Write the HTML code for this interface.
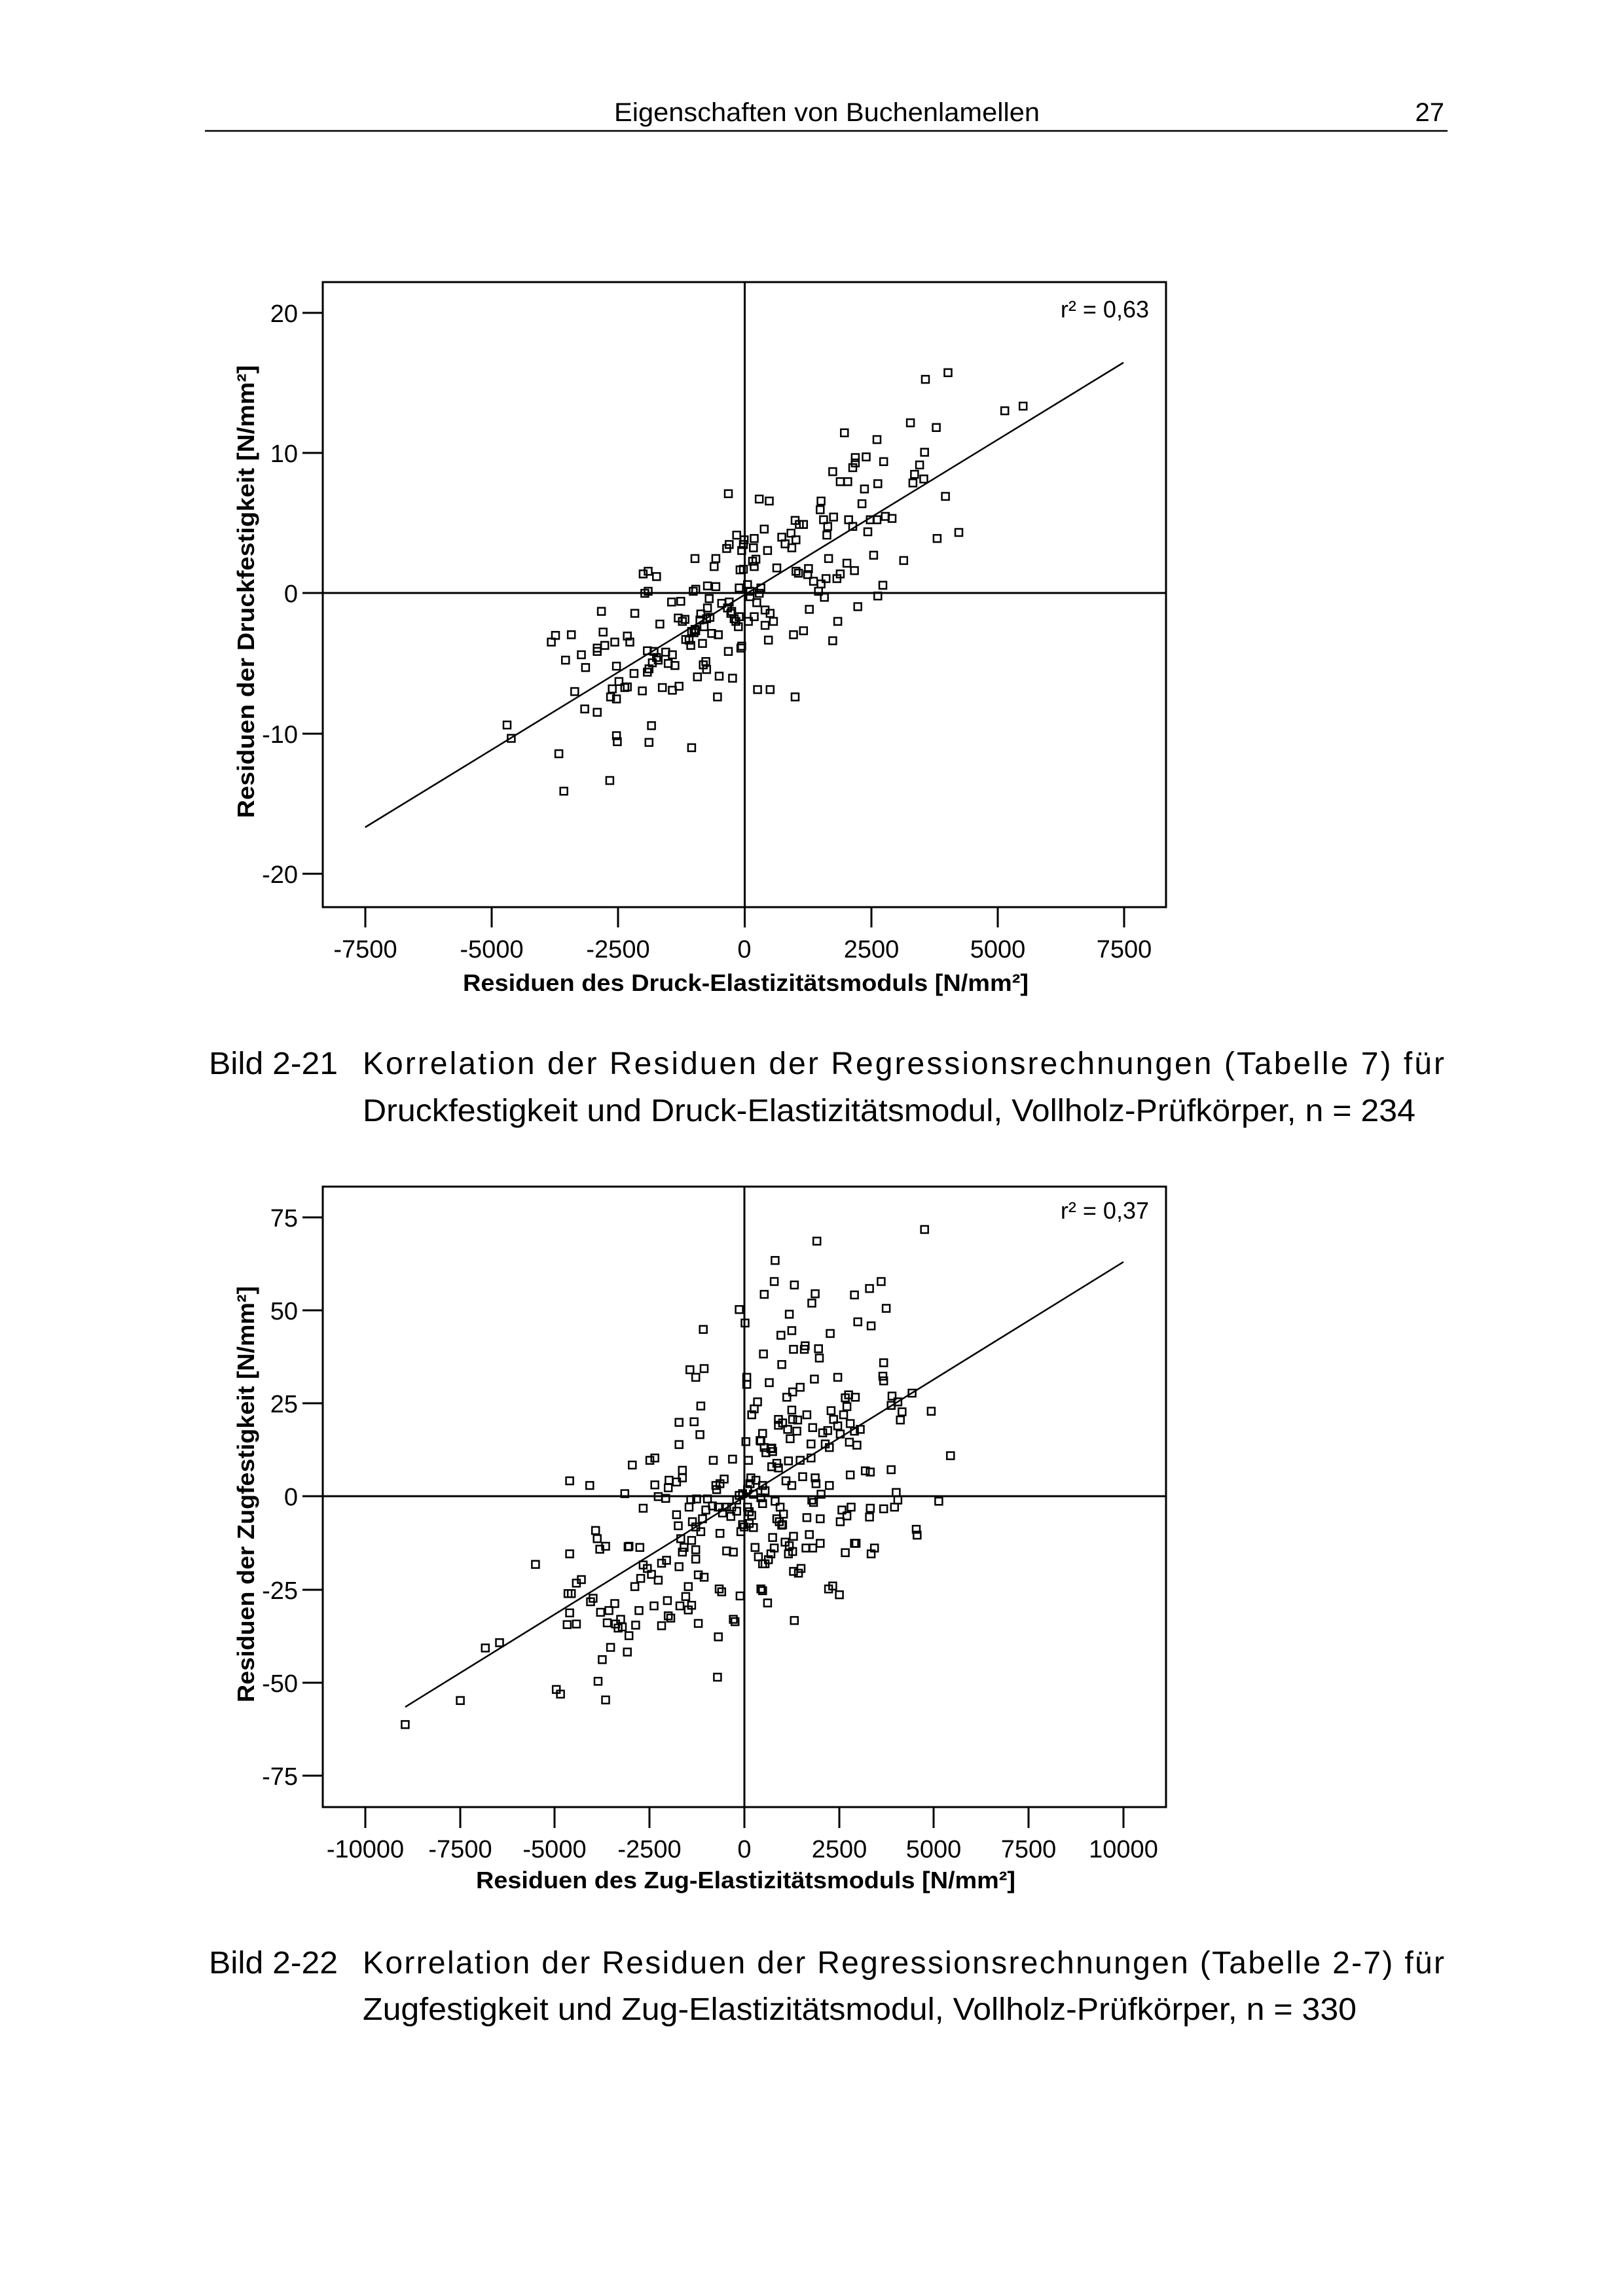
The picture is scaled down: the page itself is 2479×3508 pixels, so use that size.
<!DOCTYPE html>
<html><head><meta charset="utf-8">
<style>
html,body{margin:0;padding:0;background:#fff;}
svg{display:block;}
text{font-family:"Liberation Sans",Arial,sans-serif;fill:#000;}
</style></head>
<body>
<svg id="s" width="2479" height="3508" viewBox="0 0 2479 3508" xmlns="http://www.w3.org/2000/svg">
<rect width="2479" height="3508" fill="#fff"/>
<!-- header -->
<text x="1263" y="185" font-size="40" text-anchor="middle" textLength="650" lengthAdjust="spacingAndGlyphs">Eigenschaften von Buchenlamellen</text>
<text x="2206" y="185" font-size="40" text-anchor="end">27</text>
<line x1="313" y1="200" x2="2211" y2="200" stroke="#000" stroke-width="2.5"/>

<!-- plot 1 -->
<g stroke="#000" stroke-width="3" fill="none">
<rect x="493" y="431" width="1288" height="955"/>
<line x1="1137.5" y1="431" x2="1137.5" y2="1386"/>
<line x1="493" y1="906" x2="1781" y2="906"/>
<line x1="462" y1="478" x2="493" y2="478"/>
<line x1="462" y1="692" x2="493" y2="692"/>
<line x1="462" y1="906" x2="493" y2="906"/>
<line x1="462" y1="1121" x2="493" y2="1121"/>
<line x1="462" y1="1335" x2="493" y2="1335"/>
<line x1="558" y1="1386" x2="558" y2="1417"/>
<line x1="751" y1="1386" x2="751" y2="1417"/>
<line x1="944" y1="1386" x2="944" y2="1417"/>
<line x1="1137.5" y1="1386" x2="1137.5" y2="1417"/>
<line x1="1331" y1="1386" x2="1331" y2="1417"/>
<line x1="1524" y1="1386" x2="1524" y2="1417"/>
<line x1="1717" y1="1386" x2="1717" y2="1417"/>
<line x1="557.7" y1="1264" x2="1716" y2="554" stroke-width="2.5"/>
</g>
<g font-size="38" text-anchor="end">
<text x="455" y="492">20</text>
<text x="455" y="706">10</text>
<text x="455" y="920">0</text>
<text x="455" y="1135">-10</text>
<text x="455" y="1349">-20</text>
</g>
<g font-size="38" text-anchor="middle">
<text x="558" y="1463">-7500</text>
<text x="751" y="1463">-5000</text>
<text x="944" y="1463">-2500</text>
<text x="1137" y="1463">0</text>
<text x="1331" y="1463">2500</text>
<text x="1524" y="1463">5000</text>
<text x="1717" y="1463">7500</text>
</g>
<text x="1755" y="485" font-size="36" text-anchor="end">r² = 0,63</text>
<text x="1139" y="1514" font-size="36" font-weight="bold" text-anchor="middle" textLength="864" lengthAdjust="spacingAndGlyphs">Residuen des Druck-Elastizitätsmoduls [N/mm²]</text>
<text transform="translate(388,904) rotate(-90)" font-size="36" font-weight="bold" text-anchor="middle" textLength="692" lengthAdjust="spacingAndGlyphs">Residuen der Druckfestigkeit [N/mm²]</text>
<g id="p1" fill="none" stroke="#000" stroke-width="2.5"></g>

<text x="319" y="1641" font-size="48" textLength="197" lengthAdjust="spacingAndGlyphs">Bild 2-21</text>
<text x="554" y="1641" font-size="48" textLength="1652" lengthAdjust="spacing">Korrelation der Residuen der Regressionsrechnungen (Tabelle 7) für</text>
<text x="554" y="1713" font-size="48" textLength="1608" lengthAdjust="spacingAndGlyphs">Druckfestigkeit und Druck-Elastizitätsmodul, Vollholz-Prüfkörper, n = 234</text>

<!-- plot 2 -->
<g stroke="#000" stroke-width="3" fill="none">
<rect x="493" y="1813" width="1288" height="948"/>
<line x1="1137" y1="1813" x2="1137" y2="2761"/>
<line x1="493" y1="2286" x2="1781" y2="2286"/>
<line x1="462" y1="1860" x2="493" y2="1860"/>
<line x1="462" y1="2002" x2="493" y2="2002"/>
<line x1="462" y1="2144" x2="493" y2="2144"/>
<line x1="462" y1="2286" x2="493" y2="2286"/>
<line x1="462" y1="2429" x2="493" y2="2429"/>
<line x1="462" y1="2571" x2="493" y2="2571"/>
<line x1="462" y1="2713" x2="493" y2="2713"/>
<line x1="558" y1="2761" x2="558" y2="2793"/>
<line x1="703" y1="2761" x2="703" y2="2793"/>
<line x1="847" y1="2761" x2="847" y2="2793"/>
<line x1="992" y1="2761" x2="992" y2="2793"/>
<line x1="1137" y1="2761" x2="1137" y2="2793"/>
<line x1="1282" y1="2761" x2="1282" y2="2793"/>
<line x1="1426" y1="2761" x2="1426" y2="2793"/>
<line x1="1571" y1="2761" x2="1571" y2="2793"/>
<line x1="1716" y1="2761" x2="1716" y2="2793"/>
<line x1="619" y1="2608" x2="1716" y2="1928" stroke-width="2.5"/>
</g>
<g font-size="38" text-anchor="end">
<text x="455" y="1874">75</text>
<text x="455" y="2016">50</text>
<text x="455" y="2158">25</text>
<text x="455" y="2300">0</text>
<text x="455" y="2443">-25</text>
<text x="455" y="2585">-50</text>
<text x="455" y="2727">-75</text>
</g>
<g font-size="38" text-anchor="middle">
<text x="558" y="2838">-10000</text>
<text x="703" y="2838">-7500</text>
<text x="847" y="2838">-5000</text>
<text x="992" y="2838">-2500</text>
<text x="1137" y="2838">0</text>
<text x="1282" y="2838">2500</text>
<text x="1426" y="2838">5000</text>
<text x="1571" y="2838">7500</text>
<text x="1716" y="2838">10000</text>
</g>
<text x="1755" y="1862" font-size="36" text-anchor="end">r² = 0,37</text>
<text x="1139" y="2885" font-size="36" font-weight="bold" text-anchor="middle" textLength="824" lengthAdjust="spacingAndGlyphs">Residuen des Zug-Elastizitätsmoduls [N/mm²]</text>
<text transform="translate(388,2283) rotate(-90)" font-size="36" font-weight="bold" text-anchor="middle" textLength="636" lengthAdjust="spacingAndGlyphs">Residuen der Zugfestigkeit [N/mm²]</text>
<g id="p2" fill="none" stroke="#000" stroke-width="2.5"></g>

<text x="319" y="3015" font-size="48" textLength="197" lengthAdjust="spacingAndGlyphs">Bild 2-22</text>
<text x="554" y="3015" font-size="48" textLength="1652" lengthAdjust="spacing">Korrelation der Residuen der Regressionsrechnungen (Tabelle 2-7) für</text>
<text x="554" y="3086" font-size="48" textLength="1518" lengthAdjust="spacingAndGlyphs">Zugfestigkeit und Zug-Elastizitätsmodul, Vollholz-Prüfkörper, n = 330</text>
</svg>
<script>
var P1=[[873,450],[900,440],[968,497],[990,490],[855,515],[886,522],[776,530],[815,540],[823,573],[872,559],[866,578],[860,592],[858,605],[871,599],[762,588],[771,603],[780,603],[789,567],[802,566],[786,582],[789,575],[800,614],[816,606],[897,625],[887,688],[913,679],[748,632],[797,636],[747,645],[751,660],[763,656],[727,667],[717,661],[722,667],[712,680],[705,696],[718,690],[756,670],[755,683],[781,660],[786,670],[807,660],[815,660],[825,655],[833,658],[804,678],[684,706],[701,686],[713,702],[680,674],[686,632],[674,629],[637,621],[647,683],[635,703],[638,697],[668,688],[667,702],[670,719],[666,722],[655,697],[656,690],[695,732],[718,737],[721,740],[733,733],[732,742],[748,756],[754,748],[739,752],[745,767],[752,776],[757,718],[779,725],[788,736],[811,713],[822,758],[767,748],[771,741],[847,721],[816,774],[792,790],[768,812],[762,841],[734,794],[727,826],[715,832],[685,840],[691,812],[687,800],[681,795],[671,784],[674,770],[676,762],[663,767],[660,757],[650,762],[651,735],[655,734],[668,730],[653,706],[622,718],[620,730],[597,718],[622,760],[612,759],[595,767],[598,764],[614,778],[638,783],[636,792],[641,797],[644,808],[649,820],[652,852],[653,849],[637,857],[625,832],[617,830],[615,806],[611,808],[604,801],[603,810],[598,826],[593,827],[596,829],[590,840],[585,809],[577,807],[580,782],[569,783],[586,839],[592,848],[606,845],[570,862],[573,878],[578,909],[570,915],[558,911],[610,872],[607,877],[611,884],[600,895],[626,894],[642,897],[624,925],[672,914],[687,914],[717,925],[661,812],[668,805],[681,818],[541,737],[535,741],[551,745],[541,767],[537,770],[525,800],[485,797],[487,828],[516,834],[519,843],[501,843],[489,848],[480,857],[480,852],[461,862],[466,881],[425,843],[430,833],[449,832],[442,870],[540,856],[548,857],[551,866],[546,874],[542,883],[565,875],[553,870],[503,879],[524,890],[540,888],[534,916],[516,910],[506,902],[498,913],[496,925],[503,928],[453,917],[465,943],[480,948],[372,967],[377,987],[434,1010],[440,1066],[495,1050],[503,983],[504,992],[545,968],[542,993],[593,1001],[555,816],[582,812],[612,792],[629,785],[646,812],[650,805],[663,775],[640,800],[608,820],[597,824],[562,858],[513,911]];
var P2=[[872,145],[743,165],[693,198],[692,234],[716,240],[680,256],[788,257],[741,255],[737,271],[820,234],[806,246],[792,303],[808,310],[826,280],[650,282],[657,305],[607,316],[710,290],[713,318],[700,326],[715,350],[729,344],[745,349],[728,350],[746,365],[759,323],[701,376],[679,358],[591,385],[598,398],[608,383],[659,398],[659,410],[686,407],[740,401],[768,398],[723,415],[823,373],[822,396],[833,430],[857,425],[823,404],[840,440],[832,446],[845,457],[880,456],[843,471],[903,532],[714,423],[707,432],[713,454],[672,440],[668,452],[665,462],[604,447],[578,475],[596,474],[603,496],[578,513],[549,536],[543,540],[522,548],[582,557],[582,570],[619,540],[642,538],[658,508],[661,540],[678,494],[675,506],[688,520],[690,525],[697,470],[697,480],[702,476],[714,470],[708,487],[711,503],[720,471],[719,490],[731,462],[738,484],[736,512],[750,493],[756,489],[753,512],[760,455],[763,470],[768,481],[779,448],[775,462],[777,433],[781,428],[789,432],[783,477],[788,490],[782,509],[791,514],[795,487],[771,495],[758,518],[736,536],[723,540],[709,541],[697,553],[695,545],[689,551],[689,519],[682,527],[680,518],[676,507],[664,570],[670,574],[678,583],[681,592],[706,575],[713,583],[726,568],[741,570],[742,580],[748,598],[758,583],[783,565],[807,560],[801,558],[832,556],[838,595],[840,608],[836,620],[784,620],[807,622],[823,623],[806,637],[889,610],[862,658],[863,668],[788,682],[773,625],[779,635],[771,645],[747,640],[739,612],[737,608],[747,682],[734,667],[730,690],[724,725],[721,733],[716,814],[762,755],[770,770],[777,698],[710,686],[709,700],[705,680],[701,651],[703,632],[698,645],[695,640],[690,672],[692,690],[685,710],[681,717],[673,705],[669,689],[667,655],[662,628],[665,634],[662,648],[654,650],[652,662],[647,627],[641,620],[647,608],[650,600],[654,597],[660,590],[663,580],[667,598],[676,604],[678,614],[640,636],[635,620],[630,630],[625,620],[618,618],[632,572],[627,580],[622,583],[623,590],[612,606],[610,625],[606,640],[604,662],[598,654],[594,645],[590,620],[592,607],[599,606],[575,577],[566,574],[553,602],[562,605],[549,582],[565,587],[535,622],[513,597],[471,583],[447,575],[518,687],[531,689],[535,719],[540,725],[545,735],[532,742],[525,756],[557,716],[563,711],[553,745],[575,633],[577,652],[580,674],[584,689],[582,697],[593,677],[598,693],[598,709],[601,736],[608,740],[578,722],[589,756],[586,773],[579,789],[589,796],[601,819],[593,788],[564,780],[548,789],[530,797],[526,822],[501,785],[494,797],[508,812],[502,820],[475,776],[472,782],[461,744],[455,750],[449,768],[445,768],[447,801],[444,821],[455,820],[484,800],[492,818],[505,827],[510,825],[557,823],[565,806],[568,810],[518,840],[516,868],[496,860],[486,881],[481,918],[490,950],[431,932],[436,940],[346,861],[363,852],[316,951],[250,992],[406,718],[447,700],[478,660],[480,674],[483,692],[490,687],[517,688],[627,665],[635,695],[643,697],[643,812],[645,816],[651,772],[626,760],[629,765],[625,842],[624,911],[676,760],[678,763],[684,784],[678,717],[688,700],[702,650],[715,670],[714,696],[715,730],[731,638],[738,690],[757,760],[808,700],[812,690],[790,682],[699,620],[693,610],[660,620],[656,654]];
var NS="http://www.w3.org/2000/svg";
function draw(id,pts,oy,sy){var g=document.getElementById(id);
for(var i=0;i<pts.length;i++){var x=300+pts[i][0]*1.2755,y=oy+pts[i][1]*sy;
var r=document.createElementNS(NS,"rect");r.setAttribute("x",(x-5.5).toFixed(1));r.setAttribute("y",(y-5.5).toFixed(1));
r.setAttribute("width","11");r.setAttribute("height","11");g.appendChild(r);}}
draw("p1",P1,120,1.0214);
draw("p2",P2,1749,0.893);
</script>
</body></html>
